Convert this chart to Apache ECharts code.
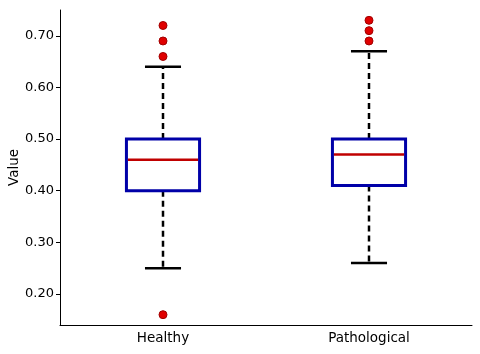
<!DOCTYPE html>
<html>
<head>
<meta charset="utf-8">
<script src="https://cdn.jsdelivr.net/npm/echarts@6/dist/echarts.min.js"></script>
<style>
  html, body { margin: 0; padding: 0; background: #fff; }
  #chart { width: 480px; height: 354px; }
</style>
</head>
<body>
<div id="chart"></div>
<script>
const categories = ["Healthy", "Pathological"];
const whiskerLow = [0.25, 0.26];
const q1 = [0.40, 0.41];
const median = [0.46, 0.47];
const q3 = [0.50, 0.50];
const whiskerHigh = [0.64, 0.67];
const outliers = [
  ["Healthy", 0.72], ["Healthy", 0.69], ["Healthy", 0.66], ["Healthy", 0.16],
  ["Pathological", 0.73], ["Pathological", 0.71], ["Pathological", 0.69]
];
const yTicks = [0.2, 0.3, 0.4, 0.5, 0.6, 0.7];

const boxRows = categories.map((c, i) => [i, whiskerLow[i], q1[i], median[i], q3[i], whiskerHigh[i]]);

function renderBox(params, api) {
  const x = api.value(0);
  const pLow = api.coord([x, api.value(1)]);
  const pQ1 = api.coord([x, api.value(2)]);
  const pMed = api.coord([x, api.value(3)]);
  const pQ3 = api.coord([x, api.value(4)]);
  const pHigh = api.coord([x, api.value(5)]);
  const band = api.size([1, 0])[0];
  const bw = band * 0.355;
  const cw = band * 0.175;
  const cx = pMed[0];
  const dash = { stroke: "#000", lineWidth: 2.5, lineDash: [6, 4] };
  const cap = { stroke: "#000", lineWidth: 2.5 };
  return {
    type: "group",
    children: [
      { type: "line", shape: { x1: cx, y1: pQ1[1], x2: cx, y2: pLow[1] }, style: dash },
      { type: "line", shape: { x1: cx, y1: pQ3[1], x2: cx, y2: pHigh[1] }, style: dash },
      { type: "line", shape: { x1: cx - cw / 2, y1: pLow[1], x2: cx + cw / 2, y2: pLow[1] }, style: cap },
      { type: "line", shape: { x1: cx - cw / 2, y1: pHigh[1], x2: cx + cw / 2, y2: pHigh[1] }, style: cap },
      { type: "rect", shape: { x: cx - bw / 2, y: pQ3[1], width: bw, height: pQ1[1] - pQ3[1] },
        style: { fill: "#fff", stroke: "#0000a8", lineWidth: 3 } },
      { type: "line", shape: { x1: cx - bw / 2 + 1.5, y1: pMed[1], x2: cx + bw / 2 - 1.5, y2: pMed[1] },
        style: { stroke: "#c00000", lineWidth: 2.5 } }
    ]
  };
}

const chart = echarts.init(document.getElementById("chart"));
chart.setOption({
  animation: false,
  grid: { left: 60, right: 8, top: 10, bottom: 29, containLabel: false, outerBoundsMode: "none" },
  xAxis: {
    type: "category",
    data: categories,
    axisLine: { lineStyle: { color: "#000", width: 1 } },
    axisTick: { alignWithLabel: true, length: 4, lineStyle: { color: "#000" } },
    axisLabel: { color: "#000", fontSize: 13.5, fontFamily: "DejaVu Sans", margin: 6 }
  },
  yAxis: {
    type: "value",
    min: 0.14,
    max: 0.75,
    name: "Value",
    nameLocation: "middle",
    nameGap: 39,
    nameMoveOverlap: false,
    nameTextStyle: { color: "#000", fontSize: 13.5, fontFamily: "DejaVu Sans" },
    axisLine: { show: true, lineStyle: { color: "#000", width: 1 } },
    axisTick: { show: true, length: 4, lineStyle: { color: "#000" }, customValues: yTicks },
    axisLabel: {
      color: "#000", fontSize: 13, fontFamily: "DejaVu Sans", margin: 6,
      customValues: yTicks,
      formatter: v => v.toFixed(2)
    },
    splitLine: { show: false }
  },
  series: [
    {
      type: "custom",
      data: boxRows,
      encode: { x: 0, y: [1, 2, 3, 4, 5] },
      renderItem: renderBox,
      z: 2
    },
    {
      type: "scatter",
      data: outliers,
      symbolSize: 8,
      itemStyle: { color: "#e00000", borderColor: "#a00000", borderWidth: 1, opacity: 1 },
      z: 3
    }
  ]
});
</script>
</body>
</html>
